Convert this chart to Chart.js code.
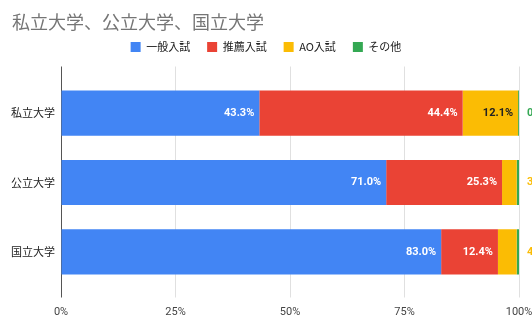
<!DOCTYPE html>
<html lang="ja">
<head>
  <meta charset="UTF-8">
  <title>私立大学、公立大学、国立大学</title>
  <script src="https://cdn.jsdelivr.net/npm/chart.js"></script>
  <style>
    html, body { margin: 0; padding: 0; background: #fff; }
    #wrap { width: 532px; height: 330px; position: relative; }
  </style>
</head>
<body>
  <div id="wrap"><canvas id="chart"></canvas></div>

  <script>
    const categories = ['私立大学', '公立大学', '国立大学'];
    const seriesNames = ['一般入試', '推薦入試', 'AO入試', 'その他'];
    const ippan = [43.3, 71.0, 83.0];
    const suisen = [44.4, 25.3, 12.4];
    const ao = [12.1, 3.2, 4.1];
    const sonota = [0.2, 0.5, 0.5];
    const xTicks = [0, 25, 50, 75, 100];
    const titleText = '私立大学、公立大学、国立大学';

    const colors = ['#4285F4', '#EA4335', '#FBBC04', '#34A853'];
    const labelColors = ['#ffffff', '#ffffff', '#222222', '#ffffff'];
    const fontJP = '"Noto Sans CJK JP", "Noto Sans", sans-serif';
    const fontLat = 'Roboto, Arial, sans-serif';

    // タイトルは左上に
    const titlePlugin = {
      id: 'leftTitle',
      afterDraw(chart) {
        const ctx = chart.ctx;
        ctx.save();
        ctx.font = '18px ' + fontJP;
        ctx.fillStyle = '#757575';
        ctx.textAlign = 'left';
        ctx.textBaseline = 'middle';
        ctx.fillText(titleText, 12, 22);
        ctx.restore();
      }
    };

    // 数値ラベル（入らないものは棒の右外に）
    const barLabels = {
      id: 'barLabels',
      afterDatasetsDraw(chart) {
        const ctx = chart.ctx;
        ctx.save();
        ctx.font = 'bold 11px ' + fontLat;
        ctx.textBaseline = 'middle';
        const outside = {};
        chart.data.datasets.forEach((ds, di) => {
          const meta = chart.getDatasetMeta(di);
          meta.data.forEach((bar, i) => {
            const txt = ds.data[i].toFixed(1) + '%';
            const w = bar.x - bar.base;
            const tw = ctx.measureText(txt).width;
            if (w > tw + 10) {
              ctx.fillStyle = labelColors[di];
              ctx.textAlign = 'right';
              ctx.fillText(txt, bar.x - 5, bar.y);
            } else {
              const start = outside[i] || (chart.chartArea.right + 8);
              ctx.fillStyle = colors[di];
              ctx.textAlign = 'left';
              ctx.fillText(txt, start, bar.y);
              outside[i] = start + tw + 6;
            }
          });
        });
        ctx.restore();
      }
    };

    const values = [ippan, suisen, ao, sonota];
    const gridColor = ctx => ctx.tick && ctx.tick.value === 0 ? '#555' : '#e0e0e0';
    const setTicks = axis => { axis.ticks = xTicks.map(v => ({ value: v })); };

    new Chart(document.getElementById('chart'), {
      type: 'bar',
      data: {
        labels: categories,
        datasets: seriesNames.map((name, k) => ({
          label: name,
          data: values[k],
          backgroundColor: colors[k],
          barPercentage: 0.652,
          categoryPercentage: 1
        }))
      },
      options: {
        indexAxis: 'y',
        responsive: true,
        maintainAspectRatio: false,
        animation: false,
        layout: { padding: { left: 0, right: 0, top: 24.5, bottom: 3.3 } },
        scales: {
          x: {
            stacked: true,
            min: 0,
            max: 100,
            afterBuildTicks: setTicks,
            afterFit: axis => { axis.paddingRight = 13; },
            ticks: {
              callback: v => v + '%',
              color: '#444',
              font: { family: fontLat, size: 11 },
              padding: 8
            },
            grid: { color: gridColor, drawTicks: true, tickLength: 11 },
            border: { display: false }
          },
          x2: {
            type: 'linear',
            position: 'top',
            min: 0,
            max: 100,
            afterBuildTicks: setTicks,
            afterFit: axis => { axis.height = 16; axis.paddingRight = 0; },
            ticks: { display: false },
            grid: { color: gridColor, drawTicks: true, tickLength: 12 },
            border: { display: false }
          },
          y: {
            stacked: true,
            afterFit: axis => { axis.width = 61; },
            ticks: {
              color: '#222',
              font: { family: fontJP, size: 11 },
              padding: 6
            },
            grid: { display: false, drawTicks: false },
            border: { display: false }
          }
        },
        plugins: {
          title: { display: false },
          legend: {
            position: 'top',
            labels: {
              boxWidth: 10,
              boxHeight: 10,
              color: '#222',
              font: { family: fontJP, size: 11 },
              padding: 17
            }
          },
          tooltip: { enabled: false }
        }
      },
      plugins: [barLabels, titlePlugin]
    });
  </script>
</body>
</html>
